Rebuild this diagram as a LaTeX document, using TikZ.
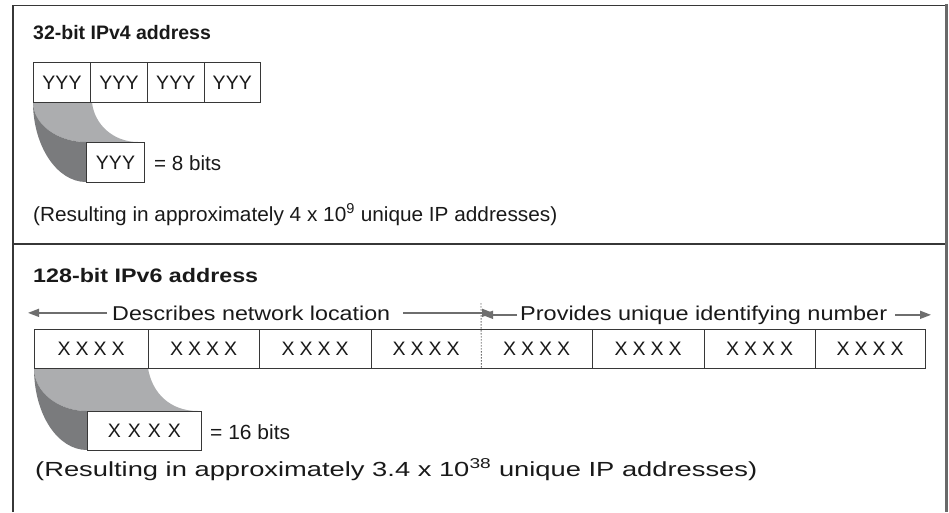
\documentclass[tikz,border=0pt]{standalone}
\usepackage{fontspec}
\setmainfont{Liberation Sans}
\usepackage{graphicx}
\usetikzlibrary{arrows.meta}

\definecolor{frameline}{RGB}{55,55,55}
\definecolor{framegray}{RGB}{105,105,105}
\definecolor{ribbonlight}{RGB}{172,173,175}
\definecolor{ribbondark}{RGB}{122,123,125}
\definecolor{arrowgray}{RGB}{110,110,110}
\definecolor{ink}{RGB}{25,25,25}

% font size in pt
\newcommand\fs[1]{\fontsize{#1}{#1}\selectfont}
% stretch a text horizontally to a given width, height unchanged
\newcommand\fitw[2]{\resizebox{#1}{\height}{#2}}
% four spaced X letters
\newcommand\xquad[1]{X\hspace{#1}X\hspace{#1}X\hspace{#1}X}

\begin{document}
\begin{tikzpicture}[x=1pt,y=-1pt,
  field/.style={draw=frameline, line width=1pt, fill=white, inner sep=0pt,
                anchor=north west, text=ink},
  cell/.style={inner sep=0pt, anchor=north west, text=ink},
  lbl/.style={inner sep=0pt, anchor=base west, text=ink},
  arr/.style={draw=arrowgray, line width=1.5pt, -{Triangle[length=11pt,width=8pt]}},
]
\useasboundingbox (0,0) rectangle (949,512);

% ---------- outer frame ----------
\draw[frameline, line width=1.2pt] (13,512) -- (13,5.5) -- (945,5.5);
\draw[framegray, line width=2.6pt] (946.5,4.2) -- (946.5,512);
\draw[frameline, line width=1.2pt] (13,244) -- (945,244);

% ---------- IPv4 ----------
\node[lbl, font=\bfseries\fs{19.5}] (t4) at (33,39) {32-bit IPv4 address};

% ribbon from first octet down to the enlarged octet
\fill[ribbonlight] (33,102) -- (92,102) .. controls (94,124) and (113,142) .. (138,142)
   -- (86,142) .. controls (57,142) and (33,124) .. (33,102) -- cycle;
\fill[ribbondark] (33,102) .. controls (33,146) and (57,182) .. (86,182)
   -- (86,142) .. controls (57,142) and (33,124) .. (33,102) -- cycle;

\foreach \i/\x/\w in {1/33/57,2/90/57,3/147/56.5,4/203.5/56.5}{
  \node[field, minimum width=\w pt, minimum height=40pt, font=\fs{19.5}] (y\i) at (\x,62) {YYY};
}
\node[field, minimum width=58pt, minimum height=40pt, font=\fs{19.5}] (ybig) at (86,142) {YYY};
\node[lbl, font=\fs{20.5}] (y8) at (154,170.5) {\fitw{67pt}{= 8 bits}};

\node[lbl, font=\fs{20.4}] (r4) at (33,221) {\fitw{524pt}{(Resulting in approximately 4 x 10\textsuperscript{9} unique IP addresses)}};

% ---------- IPv6 ----------
\node[lbl, font=\bfseries\fs{19.5}] (t6) at (33,282) {\fitw{225pt}{128-bit IPv6 address}};

% span labels with arrows
\node[lbl, font=\fs{20}] (net) at (112,320) {\fitw{278pt}{Describes network location}};
\node[lbl, font=\fs{20}] (uid) at (520,320) {\fitw{367pt}{Provides unique identifying number}};
\coordinate (netL) at (33,313);
\coordinate (netR) at (480,313);
\coordinate (uidL) at (485,313);
\coordinate (uidR) at (923,313);
\draw[arr] ([xshift=-5pt]net.west) -- ([xshift=-5pt]net.west -| netL);
\draw[arr] ([xshift=13pt]net.east) -- ([xshift=13pt]net.east -| netR);
\draw[arr] ([xshift=-3pt]uid.west) -- ([xshift=-3pt]uid.west -| uidL);
\draw[arr] ([xshift=8pt]uid.east) -- ([xshift=8pt]uid.east -| uidR);

% ribbon from first group down to the enlarged group
\fill[ribbonlight] (34,368) -- (148,368) .. controls (152,393) and (170,411) .. (198,411)
   -- (87,411) .. controls (58,411) and (34,392) .. (34,368) -- cycle;
\fill[ribbondark] (34,368) .. controls (34,415) and (58,450) .. (87,450)
   -- (87,411) .. controls (58,411) and (34,392) .. (34,368) -- cycle;

% eight 16-bit groups
\foreach \i/\x/\w in {a/34/114,b/148/111,c/259/112,d/371/110,e/481/111,f/592/112,g/704/111,h/815/110}{
  \node[cell, minimum width=\w pt, minimum height=39pt, font=\fs{19.5}] (x\i) at (\x,329) {\xquad{5pt}};
}
\draw[frameline, line width=1pt] (xa.north west) rectangle (xh.south east);
\foreach \i in {a,b,c,e,f,g}{
  \draw[frameline, line width=1pt] (x\i.north east) -- (x\i.south east);
}
% boundary between the two halves
\coordinate (split) at (481,303);
\draw[arrowgray, line width=0.9pt, dash pattern=on 1.5pt off 1.5pt] (split) -- (xd.south east);

\node[field, minimum width=114pt, minimum height=39pt, font=\fs{19.5}] (xbig) at (87,411) {\xquad{7pt}};
\node[lbl, font=\fs{20.5}] (x16) at (210,439) {\fitw{80pt}{= 16 bits}};

\node[lbl, font=\fs{20.4}] (r6) at (35,476) {\fitw{722pt}{(Resulting in approximately 3.4 x 10\textsuperscript{38} unique IP addresses)}};
\end{tikzpicture}
\end{document}
